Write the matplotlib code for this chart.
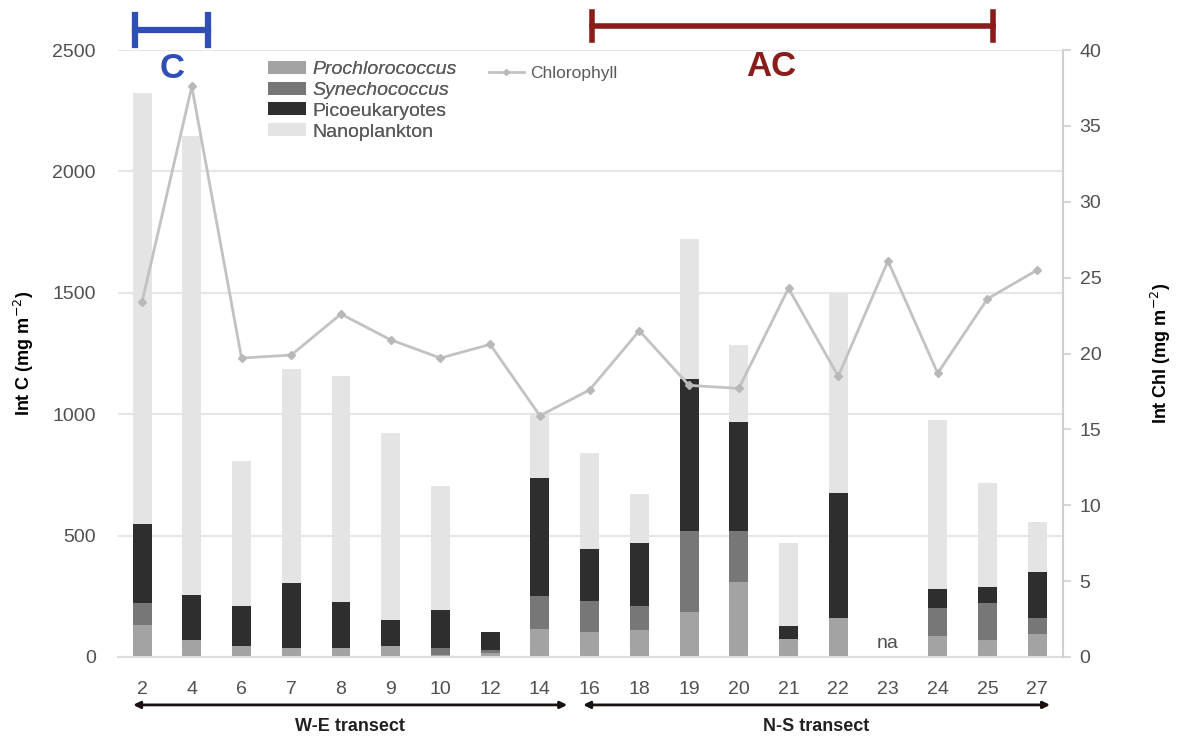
import numpy as np
import matplotlib
matplotlib.use("Agg")
import matplotlib.pyplot as plt
from matplotlib.patches import Patch
from matplotlib.lines import Line2D

plt.rcParams['font.family'] = ['Liberation Sans', 'DejaVu Sans']

stations = ['2', '4', '6', '7', '8', '9', '10', '12', '14', '16',
            '18', '19', '20', '21', '22', '23', '24', '25', '27']

# carbon per group (mg m-2), station 23 not available
prochloro = [130, 70, 45, 36, 36, 45, 8, 15, 114, 104, 111, 187, 308, 73, 162, np.nan, 86, 70, 93]
synecho = [91, 0, 0, 0, 0, 0, 28, 15, 137, 127, 99, 333, 212, 0, 0, np.nan, 117, 151, 66]
picoeuk = [327, 185, 165, 267, 189, 107, 158, 74, 488, 214, 261, 625, 449, 56, 512, np.nan, 77, 69, 192]
nano = [1776, 1890, 599, 884, 932, 769, 510, 0, 265, 397, 199, 577, 317, 339, 830, np.nan, 696, 425, 206]

chl = [23.4, 37.6, 19.7, 19.9, 22.6, 20.9, 19.7, 20.6, 15.9, 17.6,
       21.5, 17.9, 17.7, 24.3, 18.5, 26.1, 18.7, 23.6, 25.5]

groups = ['Prochlorococcus', 'Synechococcus', 'Picoeukaryotes', 'Nanoplankton']
colors = ['#a3a3a3', '#777777', '#2e2e2e', '#e4e4e4']

fig = plt.figure(figsize=(11.84, 7.38), dpi=100)
ax = fig.add_axes([0.0997, 0.1098, 0.7981, 0.8224])
x = np.arange(len(stations))

bottom = np.zeros(len(stations))
for vals, col in zip([prochloro, synecho, picoeuk, nano], colors):
    v = np.nan_to_num(np.array(vals, dtype=float))
    ax.bar(x, v, width=0.38, bottom=bottom, color=col, zorder=2)
    bottom += v

ax.set_xlim(-0.483, 18.52)
ax.set_ylim(0, 2500)
ax.set_yticks(np.arange(0, 2501, 500))
ax.set_xticks(x)
ax.set_xticklabels(stations)
ax.grid(axis='y', color='#e6e6e6', lw=1.5, zorder=0)
for s in ['top', 'left', 'right']:
    ax.spines[s].set_visible(False)
ax.spines['bottom'].set_color('#dddddd')
ax.spines['bottom'].set_linewidth(1.5)
ax.tick_params(axis='both', length=0, labelsize=14, labelcolor='#505050')
ax.tick_params(axis='x', pad=17)
ax.tick_params(axis='y', pad=16)
ax.set_ylabel(r'Int C (mg m$^{-2}$)', fontsize=13, fontweight='bold', labelpad=12)

ax.text(15, 20, 'na', ha='center', va='bottom', fontsize=14, color='#505050')

ax2 = ax.twinx()
ax2.plot(x, chl, color='#c2c2c2', lw=2, marker='D', markersize=4,
         markerfacecolor='#b8b8b8', markeredgecolor='#b8b8b8', zorder=3)
ax2.set_ylim(0, 40)
ax2.set_yticks(np.arange(0, 41, 5))
for s in ['top', 'left', 'bottom']:
    ax2.spines[s].set_visible(False)
ax2.spines['right'].set_color('#d0d0d0')
ax2.spines['right'].set_linewidth(1.5)
ax2.tick_params(axis='y', length=6, width=1.2, color='#d0d0d0', labelsize=14,
                labelcolor='#505050', pad=6)
ax2.set_ylabel(r'Int Chl (mg m$^{-2}$)', fontsize=13, fontweight='bold', labelpad=34)

# legends
handles = [Patch(facecolor=c, edgecolor='none') for c in colors]
leg = ax.legend(handles, groups, loc='upper left', bbox_to_anchor=(0.150, 0.995),
                frameon=False, fontsize=14, handlelength=2.0, handleheight=0.65,
                handletextpad=0.3, labelspacing=0.18, borderaxespad=0)
for i, t in enumerate(leg.get_texts()):
    t.set_color('#5a5a5a')
    if i < 2:
        t.set_style('italic')
ax.add_artist(leg)

leg2 = ax2.legend([Line2D([], [], color='#c2c2c2', lw=2, marker='D', markersize=3,
                          markerfacecolor='#b8b8b8', markeredgecolor='#b8b8b8')],
                  ['Chlorophyll'], loc='upper left', bbox_to_anchor=(0.385, 0.985),
                  frameon=False, fontsize=12.5, handlelength=2.0, handletextpad=0.4,
                  borderaxespad=0)
leg2.get_texts()[0].set_color('#5a5a5a')

# C / AC brackets above the plot
tr = ax.get_xaxis_transform()
blue = '#2f4fb5'
red = '#8a1c1c'
ax.plot([-0.14, 1.33], [1.033, 1.033], color=blue, lw=4.5, transform=tr, clip_on=False)
for xb in [-0.14, 1.33]:
    ax.plot([xb, xb], [1.008, 1.058], color=blue, lw=4.5, transform=tr, clip_on=False)
ax.text(0.6, 0.97, 'C', color=blue, fontsize=25, fontweight='bold', ha='center', va='center',
        transform=tr)

ax.plot([9.05, 17.12], [1.040, 1.040], color=red, lw=4, transform=tr, clip_on=False)
for xb in [9.05, 17.12]:
    ax.plot([xb, xb], [1.016, 1.063], color=red, lw=4, transform=tr, clip_on=False)
ax.text(12.65, 0.973, 'AC', color=red, fontsize=25, fontweight='bold', ha='center', va='center',
        transform=tr)

# transect arrows
for x0, x1, label in [(-0.18, 8.55, 'W-E transect'), (8.87, 18.26, 'N-S transect')]:
    ax.annotate('', xy=(x1, -0.079), xytext=(x0, -0.079), xycoords=tr, textcoords=tr,
                arrowprops=dict(arrowstyle='<|-|>', color='#1a1010', lw=2,
                                mutation_scale=10, shrinkA=0, shrinkB=0))
    ax.text((x0 + x1) / 2, -0.115, label, transform=tr, ha='center', va='center',
            fontsize=13, fontweight='bold', color='#202020')

fig.savefig('out.png', dpi=100)
